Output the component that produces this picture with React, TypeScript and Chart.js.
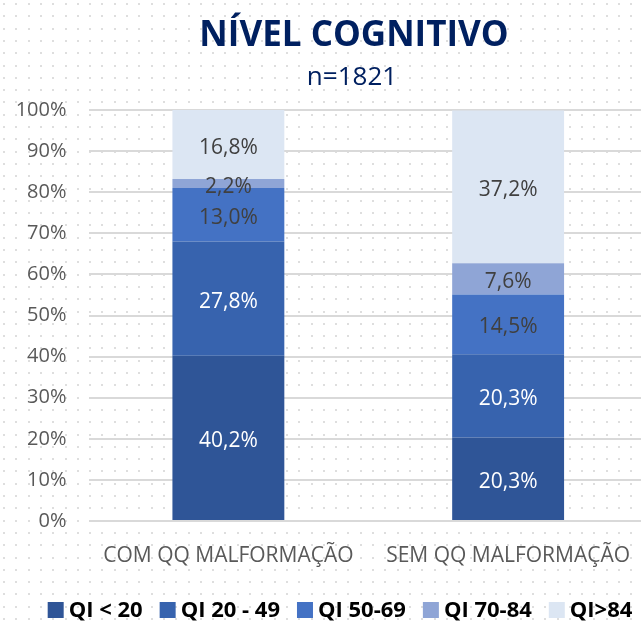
import React, { useEffect, useRef } from "react";
import { Chart, registerables } from "chart.js";

Chart.register(...registerables);

const categories = ["COM QQ MALFORMAÇÃO", "SEM QQ MALFORMAÇÃO"];
const seriesNames = ["QI < 20", "QI 20 - 49", "QI 50-69", "QI 70-84", "QI>84"];
const qiBelow20 = [40.2, 20.3];
const qi20to49 = [27.8, 20.3];
const qi50to69 = [13.0, 14.5];
const qi70to84 = [2.2, 7.6];
const qiAbove84 = [16.8, 37.2];
const yTicks = [0, 10, 20, 30, 40, 50, 60, 70, 80, 90, 100];
const titleText = "NÍVEL COGNITIVO";
const subtitleText = "n=1821";

const colors = ["#2F5597", "#3763AE", "#4472C4", "#8FA5D6", "#DCE6F3"];
const labelColors = ["#FFFFFF", "#FFFFFF", "#404040", "#404040", "#404040"];
const FONT = "'Open Sans', sans-serif";

const dotsPlugin = {
  id: "dots",
  beforeDraw(chart: any) {
    const { ctx, width, height } = chart;
    ctx.save();
    ctx.fillStyle = "#FFFFFF";
    ctx.fillRect(0, 0, width, height);
    ctx.fillStyle = "#DEDEDE";
    const step = 12.3;
    for (let y = 3; y < height; y += step) {
      for (let x = 3; x < width; x += step) {
        ctx.fillRect(Math.round(x), Math.round(y), 2, 2);
      }
    }
    ctx.restore();
  },
};

const headerPlugin = {
  id: "header",
  afterDraw(chart: any) {
    const { ctx } = chart;
    ctx.save();
    ctx.textAlign = "center";
    ctx.textBaseline = "middle";
    ctx.fillStyle = "#002060";
    ctx.font = `bold 35px ${FONT}`;
    ctx.fillText(titleText, 354, 36);
    ctx.font = `26px ${FONT}`;
    ctx.fillText(subtitleText, 352, 78);
    ctx.restore();
  },
};

const legendPlugin = {
  id: "customLegend",
  afterDraw(chart: any) {
    const { ctx } = chart;
    ctx.save();
    ctx.font = `bold 22px ${FONT}`;
    ctx.textBaseline = "middle";
    ctx.textAlign = "left";
    const box = 16;
    const gapBoxText = 5;
    const gapItems = 17;
    const widths = seriesNames.map((n) => ctx.measureText(n).width);
    const total =
      widths.reduce((a, b) => a + b, 0) +
      seriesNames.length * (box + gapBoxText) +
      (seriesNames.length - 1) * gapItems;
    let x = 340 - total / 2;
    const cy = 610;
    seriesNames.forEach((n, i) => {
      ctx.fillStyle = colors[i];
      ctx.fillRect(x, cy - box / 2, box, box);
      x += box + gapBoxText;
      ctx.fillStyle = "#000000";
      ctx.fillText(n, x, cy + 1);
      x += widths[i] + gapItems;
    });
    ctx.restore();
  },
};

const valueLabels = {
  id: "valueLabels",
  afterDatasetsDraw(chart: any) {
    const { ctx } = chart;
    ctx.save();
    ctx.font = `21px ${FONT}`;
    ctx.textAlign = "center";
    ctx.textBaseline = "middle";
    chart.data.datasets.forEach((ds: any, i: number) => {
      const meta = chart.getDatasetMeta(i);
      meta.data.forEach((bar: any, j: number) => {
        const v = ds.data[j];
        const y = (bar.y + bar.base) / 2 + 3;
        ctx.fillStyle = labelColors[i];
        ctx.fillText(v.toFixed(1).replace(".", ",") + "%", bar.x, y);
      });
    });
    ctx.restore();
  },
};

export default function App() {
  const ref = useRef<HTMLCanvasElement>(null);
  useEffect(() => {
    document.body.style.margin = "0";
    const allData = [qiBelow20, qi20to49, qi50to69, qi70to84, qiAbove84];
    const chart = new Chart(ref.current!, {
      type: "bar",
      data: {
        labels: categories,
        datasets: allData.map((d, i) => ({
          label: seriesNames[i],
          data: d,
          backgroundColor: colors[i],
          borderWidth: 0,
          categoryPercentage: 1,
          barPercentage: 0.4,
        })),
      },
      options: {
        animation: false,
        responsive: false,
        maintainAspectRatio: false,
        layout: { padding: { left: 0, right: 0, top: 110, bottom: 0 } },
        plugins: {
          title: { display: false },
          legend: { display: false },
          tooltip: { enabled: false },
        },
        scales: {
          x: {
            stacked: true,
            afterFit: (s: any) => {
              s.height = 102;
            },
            grid: { display: false },
            border: { display: false },
            ticks: {
              color: "#595959",
              font: { family: FONT, size: 21 },
              padding: 14,
              maxRotation: 0,
            },
          },
          y: {
            stacked: true,
            min: 0,
            max: 100,
            afterFit: (s: any) => {
              s.width = 88.5;
            },
            afterBuildTicks: (s: any) => {
              s.ticks = yTicks.map((v) => ({ value: v }));
            },
            grid: { color: "#D9D9D9", lineWidth: 2, drawTicks: false },
            border: { display: false },
            ticks: {
              color: "#595959",
              font: { family: FONT, size: 20 },
              padding: 22,
              callback: (v: any) => v + "%",
            },
          },
        },
      },
      plugins: [dotsPlugin, valueLabels, headerPlugin, legendPlugin],
    });
    return () => chart.destroy();
  }, []);
  return (
    <div style={{ width: 641, height: 623, overflow: "hidden" }}>
      <canvas ref={ref} width={648} height={623} />
    </div>
  );
}
